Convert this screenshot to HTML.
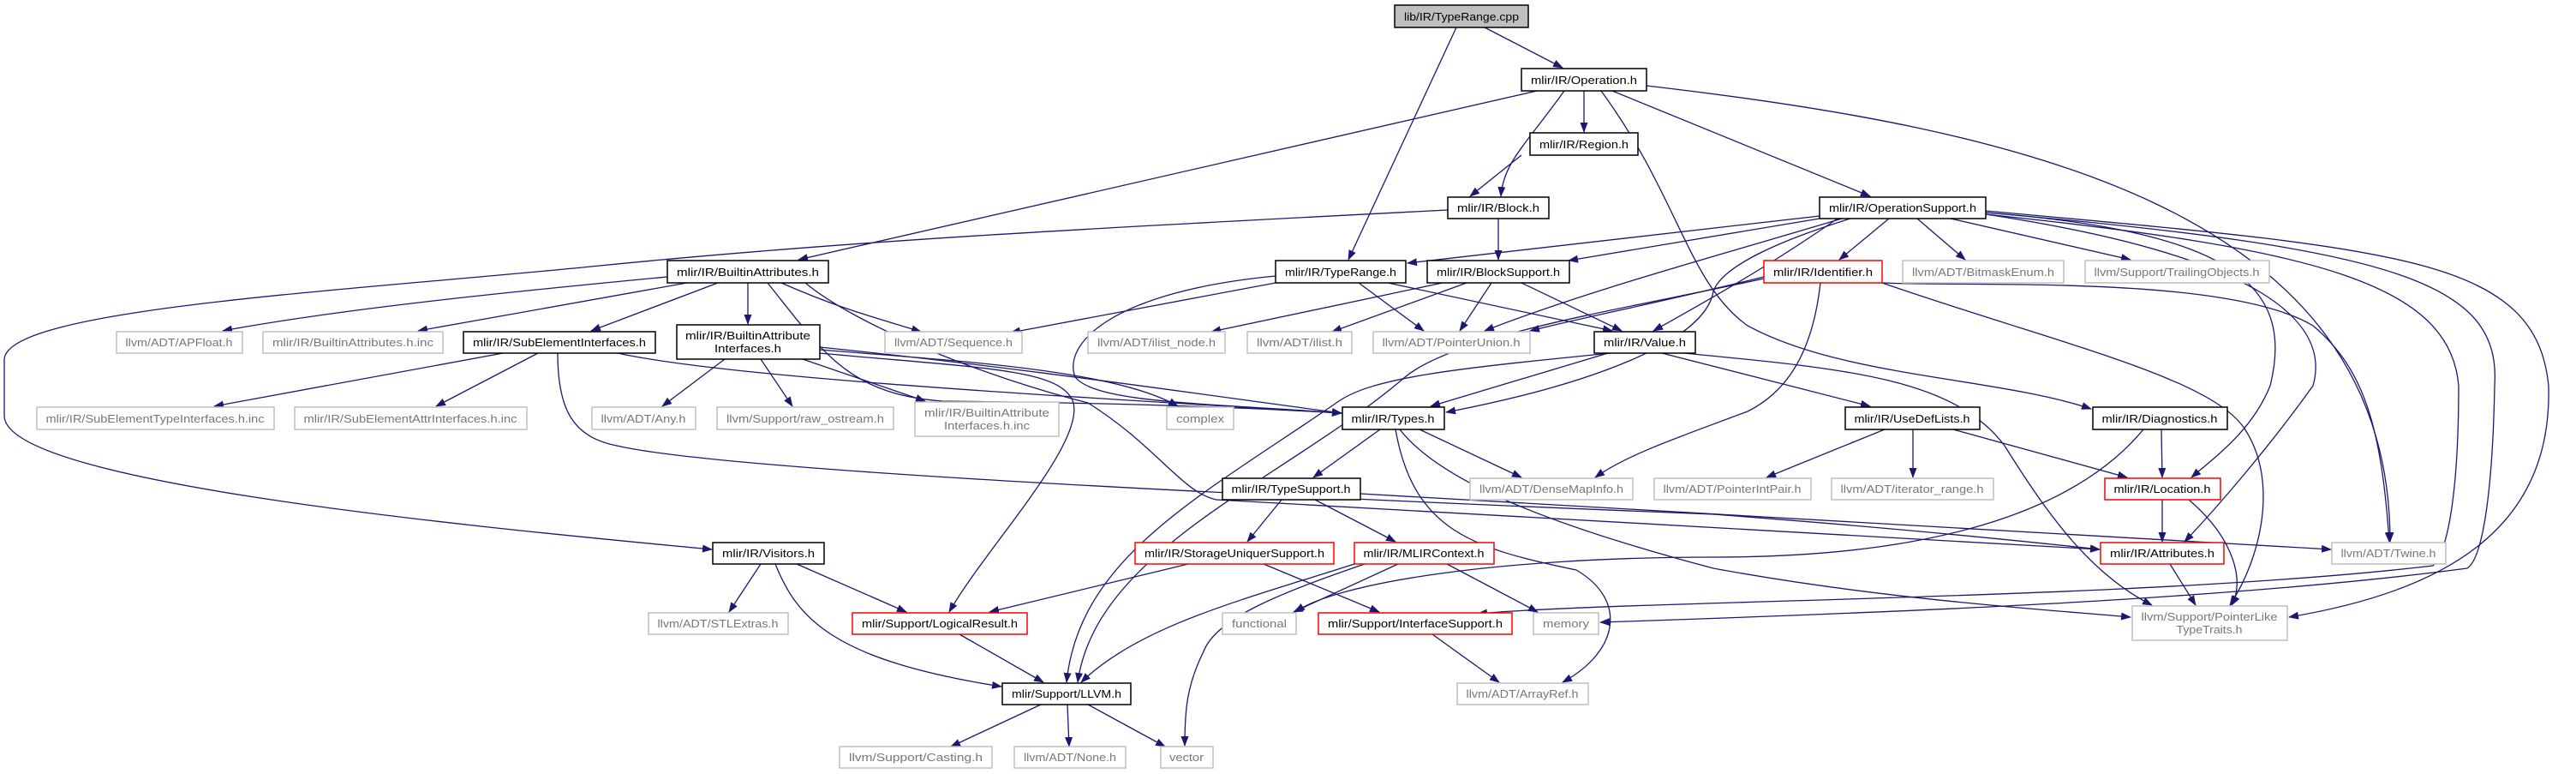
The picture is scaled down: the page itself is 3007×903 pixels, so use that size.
<!DOCTYPE html>
<html><head><meta charset="utf-8"><style>
html,body{margin:0;padding:0;background:#fff;}
svg{display:block;}
text{font-family:"Liberation Sans",sans-serif;font-size:13px;}
</style></head><body>
<svg width="3007" height="903" viewBox="0 0 3007 903" xmlns="http://www.w3.org/2000/svg">
<defs><marker id="a" markerWidth="12" markerHeight="9" refX="11" refY="4.5" orient="auto" markerUnits="userSpaceOnUse"><path d="M0,0 L12,4.5 L0,9z" fill="#191970"/></marker></defs>
<g fill="none" stroke="#191970" stroke-width="1.3" marker-end="url(#a)">
<path d="M1733,32 L1824,79"/>
<path d="M1700,32 L1574,303"/>
<path d="M1794,106 L932,303"/>
<path d="M1826,106 C1780,170 1755,190 1752,229"/>
<path d="M1849,106 L1849,154"/>
<path d="M1776,181 L1716,229"/>
<path d="M1882,106 L2183,229"/>
<path d="M1869,106 C1960,230 1970,330 2040,380 C2150,440 2330,440 2441,477"/>
<path d="M1922,100 C2350,150 2790,240 2790,632"/>
<path d="M1749,255 L1749,303"/>
<path d="M1690,245 C1300,265 1000,280 700,310 C400,340 5,360 5,420 L5,485 C5,560 500,610 831,641"/>
<path d="M2124,252 L1643,307"/>
<path d="M2124,255 L1831,304"/>
<path d="M2205,255 L2147,303"/>
<path d="M2238,255 L2294,303"/>
<path d="M2277,255 L2487,303"/>
<path d="M2150,255 C2000,300 1850,340 1733,386"/>
<path d="M2145,255 C2080,300 2030,330 1930,386"/>
<path d="M2160,255 C2080,280 2010,310 2000,340 C1990,400 1850,450 1688,481"/>
<path d="M2318,248 C2600,270 2680,330 2650,450 C2630,500 2590,530 2558,557"/>
<path d="M2318,250 C2650,300 2720,380 2700,450 C2650,520 2590,590 2550,632"/>
<path d="M2318,246 C2800,290 2960,300 2975,450 C2980,620 2850,690 2672,720"/>
<path d="M2318,248 C2800,290 2920,330 2912,450 C2910,560 2900,650 2880,663 C2600,700 2200,715 1868,726"/>
<path d="M2318,250 C2700,290 2860,330 2870,450 C2870,560 2860,640 2840,660 C2500,700 1900,700 1725,716"/>
<path d="M2198,330 C2300,335 2600,320 2700,380 C2760,430 2780,500 2789,632"/>
<path d="M2197,330 C2400,400 2580,440 2620,500 C2660,560 2640,650 2603,706"/>
<path d="M2059,323 C1950,350 1850,370 1786,386"/>
<path d="M2125,330 C2115,420 2080,460 2040,480 C1960,510 1900,530 1862,557"/>
<path d="M2059,325 C1900,360 1700,390 1640,440 C1500,560 1280,640 1258,796"/>
<path d="M1880,412 C1700,430 1600,440 1560,470 C1400,580 1260,650 1245,796"/>
<path d="M779,323 C600,340 400,360 260,386"/>
<path d="M802,330 L488,386"/>
<path d="M838,330 L690,386"/>
<path d="M873,330 L873,378"/>
<path d="M912,330 C980,360 1020,370 1075,387"/>
<path d="M896,330 C960,410 990,460 1100,468 C1300,470 1450,475 1566,482"/>
<path d="M940,330 C1000,380 1150,440 1270,470 C1350,520 1380,575 1420,583 C1700,600 2200,625 2451,641"/>
<path d="M1489,330 L1180,388"/>
<path d="M1489,322 C1300,340 1240,400 1255,440 C1280,470 1400,470 1566,482"/>
<path d="M1586,330 L1662,386"/>
<path d="M1620,330 L1882,386"/>
<path d="M1684,330 L1414,387"/>
<path d="M1712,330 L1555,387"/>
<path d="M1741,330 L1704,386"/>
<path d="M1776,330 L1893,386"/>
<path d="M1877,412 L1670,474"/>
<path d="M1940,412 L2183,474"/>
<path d="M1966,412 C2150,430 2280,440 2340,520 C2390,600 2440,670 2512,706"/>
<path d="M587,412 L250,474"/>
<path d="M628,412 L509,474"/>
<path d="M651,412 C651,480 670,510 720,520 C850,550 1500,580 2000,600 C2200,615 2350,630 2451,641"/>
<path d="M721,412 C850,440 1200,460 1566,482"/>
<path d="M846,419 L773,474"/>
<path d="M888,419 L925,474"/>
<path d="M937,419 L1080,468"/>
<path d="M957,408 C1100,420 1300,430 1375,474"/>
<path d="M957,405 C1200,430 1400,460 1566,482"/>
<path d="M957,412 C1150,430 1240,430 1253,470 C1265,520 1150,640 1108,714"/>
<path d="M1611,501 L1533,557"/>
<path d="M1657,501 L1776,557"/>
<path d="M1634,501 C1680,560 1800,610 2000,663 C2200,700 2400,712 2487,720"/>
<path d="M1629,501 C1650,620 1720,640 1840,665 C1900,700 1890,760 1824,796"/>
<path d="M2200,501 L2062,557"/>
<path d="M2233,501 L2233,557"/>
<path d="M2280,501 L2483,557"/>
<path d="M2523,501 L2524,557"/>
<path d="M2502,501 C2420,600 2250,650 2000,650 C1750,650 1560,680 1512,714"/>
<path d="M2524,583 L2524,632"/>
<path d="M2555,583 C2610,630 2620,680 2605,706"/>
<path d="M2533,658 L2563,706"/>
<path d="M1496,583 L1456,632"/>
<path d="M1535,583 L1629,632"/>
<path d="M1588,576 C2000,600 2400,620 2721,641"/>
<path d="M1387,658 L1155,714"/>
<path d="M1475,658 L1610,714"/>
<path d="M1632,658 L1510,714"/>
<path d="M1689,658 L1795,714"/>
<path d="M1581,658 C1450,700 1330,730 1262,796"/>
<path d="M1593,658 C1500,690 1420,720 1405,760 C1385,800 1383,830 1383,870"/>
<path d="M888,658 L851,714"/>
<path d="M930,658 L1058,714"/>
<path d="M905,658 C930,720 970,770 1169,801"/>
<path d="M1120,740 L1218,796"/>
<path d="M1672,740 L1750,796"/>
<path d="M1215,822 L1110,871"/>
<path d="M1246,822 L1248,871"/>
<path d="M1270,822 L1360,871"/>
</g>
<g stroke-width="1.5">
<rect x="1628" y="6" width="156" height="26" fill="#bfbfbf" stroke="#000"/>
<rect x="1776" y="80" width="146" height="26" fill="#fff" stroke="#000"/>
<rect x="1786" y="155" width="126" height="26" fill="#fff" stroke="#000"/>
<rect x="1690" y="230" width="118" height="25" fill="#fff" stroke="#000"/>
<rect x="2124" y="230" width="194" height="25" fill="#fff" stroke="#000"/>
<rect x="779" y="304" width="188" height="26" fill="#fff" stroke="#000"/>
<rect x="1489" y="304" width="152" height="26" fill="#fff" stroke="#000"/>
<rect x="1666" y="304" width="166" height="26" fill="#fff" stroke="#000"/>
<rect x="2059" y="304" width="138" height="26" fill="#fff" stroke="#f00"/>
<rect x="2221" y="304" width="188" height="26" fill="#fff" stroke="#bfbfbf"/>
<rect x="2434" y="304" width="215" height="26" fill="#fff" stroke="#bfbfbf"/>
<rect x="136" y="387" width="147" height="25" fill="#fff" stroke="#bfbfbf"/>
<rect x="307" y="387" width="210" height="25" fill="#fff" stroke="#bfbfbf"/>
<rect x="541" y="387" width="224" height="25" fill="#fff" stroke="#000"/>
<rect x="790" y="379" width="167" height="40" fill="#fff" stroke="#000"/>
<rect x="1033" y="387" width="160" height="25" fill="#fff" stroke="#bfbfbf"/>
<rect x="1270" y="387" width="160" height="25" fill="#fff" stroke="#bfbfbf"/>
<rect x="1456" y="387" width="122" height="25" fill="#fff" stroke="#bfbfbf"/>
<rect x="1603" y="387" width="183" height="25" fill="#fff" stroke="#bfbfbf"/>
<rect x="1861" y="387" width="118" height="25" fill="#fff" stroke="#000"/>
<rect x="43" y="475" width="277" height="26" fill="#fff" stroke="#bfbfbf"/>
<rect x="344" y="475" width="271" height="26" fill="#fff" stroke="#bfbfbf"/>
<rect x="691" y="475" width="121" height="26" fill="#fff" stroke="#bfbfbf"/>
<rect x="837" y="475" width="206" height="26" fill="#fff" stroke="#bfbfbf"/>
<rect x="1068" y="469" width="168" height="40" fill="#fff" stroke="#bfbfbf"/>
<rect x="1362" y="475" width="78" height="26" fill="#fff" stroke="#bfbfbf"/>
<rect x="1567" y="475" width="119" height="26" fill="#fff" stroke="#000"/>
<rect x="2154" y="475" width="157" height="26" fill="#fff" stroke="#000"/>
<rect x="2443" y="475" width="157" height="26" fill="#fff" stroke="#000"/>
<rect x="1427" y="558" width="161" height="25" fill="#fff" stroke="#000"/>
<rect x="1716" y="558" width="190" height="25" fill="#fff" stroke="#bfbfbf"/>
<rect x="1931" y="558" width="183" height="25" fill="#fff" stroke="#bfbfbf"/>
<rect x="2138" y="558" width="189" height="25" fill="#fff" stroke="#bfbfbf"/>
<rect x="2457" y="558" width="135" height="25" fill="#fff" stroke="#f00"/>
<rect x="832" y="633" width="130" height="25" fill="#fff" stroke="#000"/>
<rect x="1325" y="633" width="232" height="25" fill="#fff" stroke="#f00"/>
<rect x="1581" y="633" width="163" height="25" fill="#fff" stroke="#f00"/>
<rect x="2452" y="633" width="144" height="25" fill="#fff" stroke="#f00"/>
<rect x="2722" y="633" width="133" height="25" fill="#fff" stroke="#bfbfbf"/>
<rect x="757" y="715" width="163" height="25" fill="#fff" stroke="#bfbfbf"/>
<rect x="995" y="715" width="204" height="25" fill="#fff" stroke="#f00"/>
<rect x="1427" y="715" width="86" height="25" fill="#fff" stroke="#bfbfbf"/>
<rect x="1539" y="715" width="226" height="25" fill="#fff" stroke="#f00"/>
<rect x="1790" y="715" width="76" height="25" fill="#fff" stroke="#bfbfbf"/>
<rect x="2489" y="707" width="181" height="40" fill="#fff" stroke="#bfbfbf"/>
<rect x="1170" y="797" width="150" height="25" fill="#fff" stroke="#000"/>
<rect x="1701" y="797" width="153" height="25" fill="#fff" stroke="#bfbfbf"/>
<rect x="980" y="871" width="178" height="25" fill="#fff" stroke="#bfbfbf"/>
<rect x="1184" y="871" width="130" height="25" fill="#fff" stroke="#bfbfbf"/>
<rect x="1355" y="871" width="61" height="25" fill="#fff" stroke="#bfbfbf"/>
</g>
<g fill="#000" text-anchor="middle">
<text x="1706" y="24" textLength="134" lengthAdjust="spacingAndGlyphs">lib/IR/TypeRange.cpp</text>
<text x="1849" y="98" textLength="124" lengthAdjust="spacingAndGlyphs">mlir/IR/Operation.h</text>
<text x="1849" y="173" textLength="104" lengthAdjust="spacingAndGlyphs">mlir/IR/Region.h</text>
<text x="1749" y="247" textLength="96" lengthAdjust="spacingAndGlyphs">mlir/IR/Block.h</text>
<text x="2221" y="247" textLength="172" lengthAdjust="spacingAndGlyphs">mlir/IR/OperationSupport.h</text>
<text x="873" y="322" textLength="166" lengthAdjust="spacingAndGlyphs">mlir/IR/BuiltinAttributes.h</text>
<text x="1565" y="322" textLength="130" lengthAdjust="spacingAndGlyphs">mlir/IR/TypeRange.h</text>
<text x="1749" y="322" textLength="144" lengthAdjust="spacingAndGlyphs">mlir/IR/BlockSupport.h</text>
<text x="2128" y="322" textLength="116" lengthAdjust="spacingAndGlyphs">mlir/IR/Identifier.h</text>
<text x="2315" y="322" textLength="166" lengthAdjust="spacingAndGlyphs" fill="#777">llvm/ADT/BitmaskEnum.h</text>
<text x="2541" y="322" textLength="193" lengthAdjust="spacingAndGlyphs" fill="#777">llvm/Support/TrailingObjects.h</text>
<text x="209" y="404" textLength="125" lengthAdjust="spacingAndGlyphs" fill="#777">llvm/ADT/APFloat.h</text>
<text x="412" y="404" textLength="188" lengthAdjust="spacingAndGlyphs" fill="#777">mlir/IR/BuiltinAttributes.h.inc</text>
<text x="653" y="404" textLength="202" lengthAdjust="spacingAndGlyphs">mlir/IR/SubElementInterfaces.h</text>
<text x="873" y="396" textLength="146" lengthAdjust="spacingAndGlyphs">mlir/IR/BuiltinAttribute</text>
<text x="873" y="411" textLength="78" lengthAdjust="spacingAndGlyphs">Interfaces.h</text>
<text x="1113" y="404" textLength="138" lengthAdjust="spacingAndGlyphs" fill="#777">llvm/ADT/Sequence.h</text>
<text x="1350" y="404" textLength="138" lengthAdjust="spacingAndGlyphs" fill="#777">llvm/ADT/ilist_node.h</text>
<text x="1517" y="404" textLength="100" lengthAdjust="spacingAndGlyphs" fill="#777">llvm/ADT/ilist.h</text>
<text x="1694" y="404" textLength="161" lengthAdjust="spacingAndGlyphs" fill="#777">llvm/ADT/PointerUnion.h</text>
<text x="1920" y="404" textLength="96" lengthAdjust="spacingAndGlyphs">mlir/IR/Value.h</text>
<text x="181" y="493" textLength="255" lengthAdjust="spacingAndGlyphs" fill="#777">mlir/IR/SubElementTypeInterfaces.h.inc</text>
<text x="479" y="493" textLength="249" lengthAdjust="spacingAndGlyphs" fill="#777">mlir/IR/SubElementAttrInterfaces.h.inc</text>
<text x="751" y="493" textLength="99" lengthAdjust="spacingAndGlyphs" fill="#777">llvm/ADT/Any.h</text>
<text x="940" y="493" textLength="184" lengthAdjust="spacingAndGlyphs" fill="#777">llvm/Support/raw_ostream.h</text>
<text x="1152" y="486" textLength="146" lengthAdjust="spacingAndGlyphs" fill="#777">mlir/IR/BuiltinAttribute</text>
<text x="1152" y="501" textLength="100" lengthAdjust="spacingAndGlyphs" fill="#777">Interfaces.h.inc</text>
<text x="1401" y="493" textLength="56" lengthAdjust="spacingAndGlyphs" fill="#777">complex</text>
<text x="1626" y="493" textLength="97" lengthAdjust="spacingAndGlyphs">mlir/IR/Types.h</text>
<text x="2232" y="493" textLength="135" lengthAdjust="spacingAndGlyphs">mlir/IR/UseDefLists.h</text>
<text x="2521" y="493" textLength="135" lengthAdjust="spacingAndGlyphs">mlir/IR/Diagnostics.h</text>
<text x="1507" y="575" textLength="139" lengthAdjust="spacingAndGlyphs">mlir/IR/TypeSupport.h</text>
<text x="1811" y="575" textLength="168" lengthAdjust="spacingAndGlyphs" fill="#777">llvm/ADT/DenseMapInfo.h</text>
<text x="2022" y="575" textLength="161" lengthAdjust="spacingAndGlyphs" fill="#777">llvm/ADT/PointerIntPair.h</text>
<text x="2232" y="575" textLength="167" lengthAdjust="spacingAndGlyphs" fill="#777">llvm/ADT/iterator_range.h</text>
<text x="2524" y="575" textLength="113" lengthAdjust="spacingAndGlyphs">mlir/IR/Location.h</text>
<text x="897" y="650" textLength="108" lengthAdjust="spacingAndGlyphs">mlir/IR/Visitors.h</text>
<text x="1441" y="650" textLength="210" lengthAdjust="spacingAndGlyphs">mlir/IR/StorageUniquerSupport.h</text>
<text x="1662" y="650" textLength="141" lengthAdjust="spacingAndGlyphs">mlir/IR/MLIRContext.h</text>
<text x="2524" y="650" textLength="122" lengthAdjust="spacingAndGlyphs">mlir/IR/Attributes.h</text>
<text x="2788" y="650" textLength="111" lengthAdjust="spacingAndGlyphs" fill="#777">llvm/ADT/Twine.h</text>
<text x="838" y="732" textLength="141" lengthAdjust="spacingAndGlyphs" fill="#777">llvm/ADT/STLExtras.h</text>
<text x="1097" y="732" textLength="182" lengthAdjust="spacingAndGlyphs">mlir/Support/LogicalResult.h</text>
<text x="1470" y="732" textLength="64" lengthAdjust="spacingAndGlyphs" fill="#777">functional</text>
<text x="1652" y="732" textLength="204" lengthAdjust="spacingAndGlyphs">mlir/Support/InterfaceSupport.h</text>
<text x="1828" y="732" textLength="54" lengthAdjust="spacingAndGlyphs" fill="#777">memory</text>
<text x="2579" y="724" textLength="159" lengthAdjust="spacingAndGlyphs" fill="#777">llvm/Support/PointerLike</text>
<text x="2579" y="739" textLength="77" lengthAdjust="spacingAndGlyphs" fill="#777">TypeTraits.h</text>
<text x="1245" y="814" textLength="128" lengthAdjust="spacingAndGlyphs">mlir/Support/LLVM.h</text>
<text x="1777" y="814" textLength="131" lengthAdjust="spacingAndGlyphs" fill="#777">llvm/ADT/ArrayRef.h</text>
<text x="1069" y="888" textLength="156" lengthAdjust="spacingAndGlyphs" fill="#777">llvm/Support/Casting.h</text>
<text x="1249" y="888" textLength="108" lengthAdjust="spacingAndGlyphs" fill="#777">llvm/ADT/None.h</text>
<text x="1385" y="888" textLength="40" lengthAdjust="spacingAndGlyphs" fill="#777">vector</text>
</g>
</svg>
</body></html>
